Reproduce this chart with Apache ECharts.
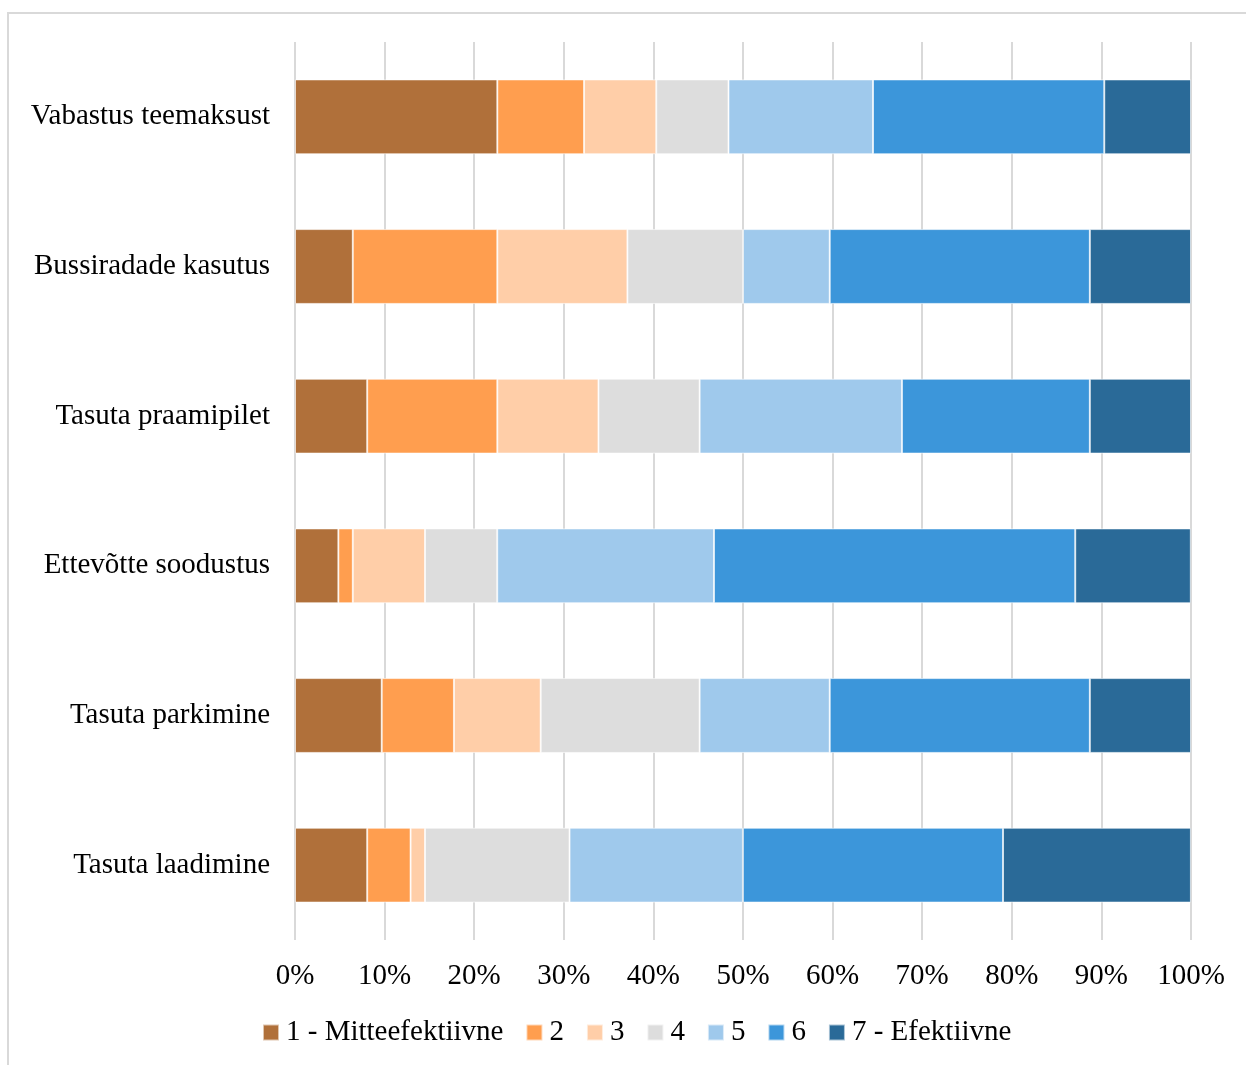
<!DOCTYPE html>
<html>
<head>
<meta charset="utf-8">
<script src="https://cdn.jsdelivr.net/npm/echarts@6/dist/echarts.min.js"></script>
<style>
  html, body { margin: 0; padding: 0; background: #fff; }
  #wrap {
    position: absolute; left: 7px; top: 12px; width: 1250px; height: 1060px;
    border: 2px solid #d9d9d9; box-sizing: border-box;
  }
  #chart { position: absolute; left: 0; top: 0; width: 1246px; height: 1065px; }
</style>
</head>
<body>
<div id="wrap"></div>
<div id="chart"></div>
<script>
// kategooriad ülevalt alla
const categories = [
  'Vabastus teemaksust',
  'Bussiradade kasutus',
  'Tasuta praamipilet',
  'Ettevõtte soodustus',
  'Tasuta parkimine',
  'Tasuta laadimine'
]
const seriesNames = ['1 - Mitteefektiivne', '2', '3', '4', '5', '6', '7 - Efektiivne']
const seriesColors = ['#B0703A', '#FF9E4F', '#FFCEA8', '#DDDDDD', '#9FC9EC', '#3C96DA', '#2A6A98']

// osakaalud protsentides, iga rida = üks hinne
const s1 = [22.58, 6.45, 8.06, 4.84, 9.68, 8.06]
const s2 = [9.68, 16.13, 14.52, 1.61, 8.06, 4.84]
const s3 = [8.06, 14.52, 11.29, 8.06, 9.68, 1.61]
const s4 = [8.06, 12.90, 11.29, 8.06, 17.74, 16.13]
const s5 = [16.13, 9.68, 22.58, 24.19, 14.52, 19.35]
const s6 = [25.81, 29.03, 20.97, 40.32, 29.03, 29.03]
const s7 = [9.68, 11.29, 11.29, 12.90, 11.29, 20.97]
const seriesData = [s1, s2, s3, s4, s5, s6, s7]

const font = '"Liberation Serif", "Times New Roman", serif'

const chart = echarts.init(document.getElementById('chart'))

const option = {
  backgroundColor: 'transparent',
  animation: false,
  grid: {
    left: 295,
    right: 55,
    top: 42,
    bottom: 125
  },
  legend: {
    bottom: 13,
    left: 257,
    itemWidth: 16,
    itemHeight: 16,
    itemGap: 22,
    icon: 'rect',
    textStyle: {
      color: '#000',
      fontFamily: font,
      fontSize: 29,
      padding: [0, 0, 0, 2]
    },
    data: seriesNames
  },
  xAxis: {
    type: 'value',
    min: 0,
    max: 100,
    interval: 10,
    axisLine: { show: false },
    axisTick: { show: false },
    splitLine: {
      lineStyle: { color: '#d9d9d9', width: 2 }
    },
    axisLabel: {
      color: '#000',
      fontFamily: font,
      fontSize: 29,
      margin: 22,
      formatter: '{value}%'
    }
  },
  yAxis: {
    type: 'category',
    inverse: true,
    data: categories,
    axisLine: { show: false },
    axisTick: { show: false },
    axisLabel: {
      color: '#000',
      fontFamily: font,
      fontSize: 29,
      margin: 25
    }
  },
  series: seriesNames.map((name, i) => ({
    name: name,
    type: 'bar',
    stack: 'total',
    barWidth: '50%',
    itemStyle: {
      color: seriesColors[i],
      borderColor: 'rgba(255,255,255,0.6)',
      borderWidth: 1
    },
    data: seriesData[i]
  }))
}

chart.setOption(option)
</script>
</body>
</html>
